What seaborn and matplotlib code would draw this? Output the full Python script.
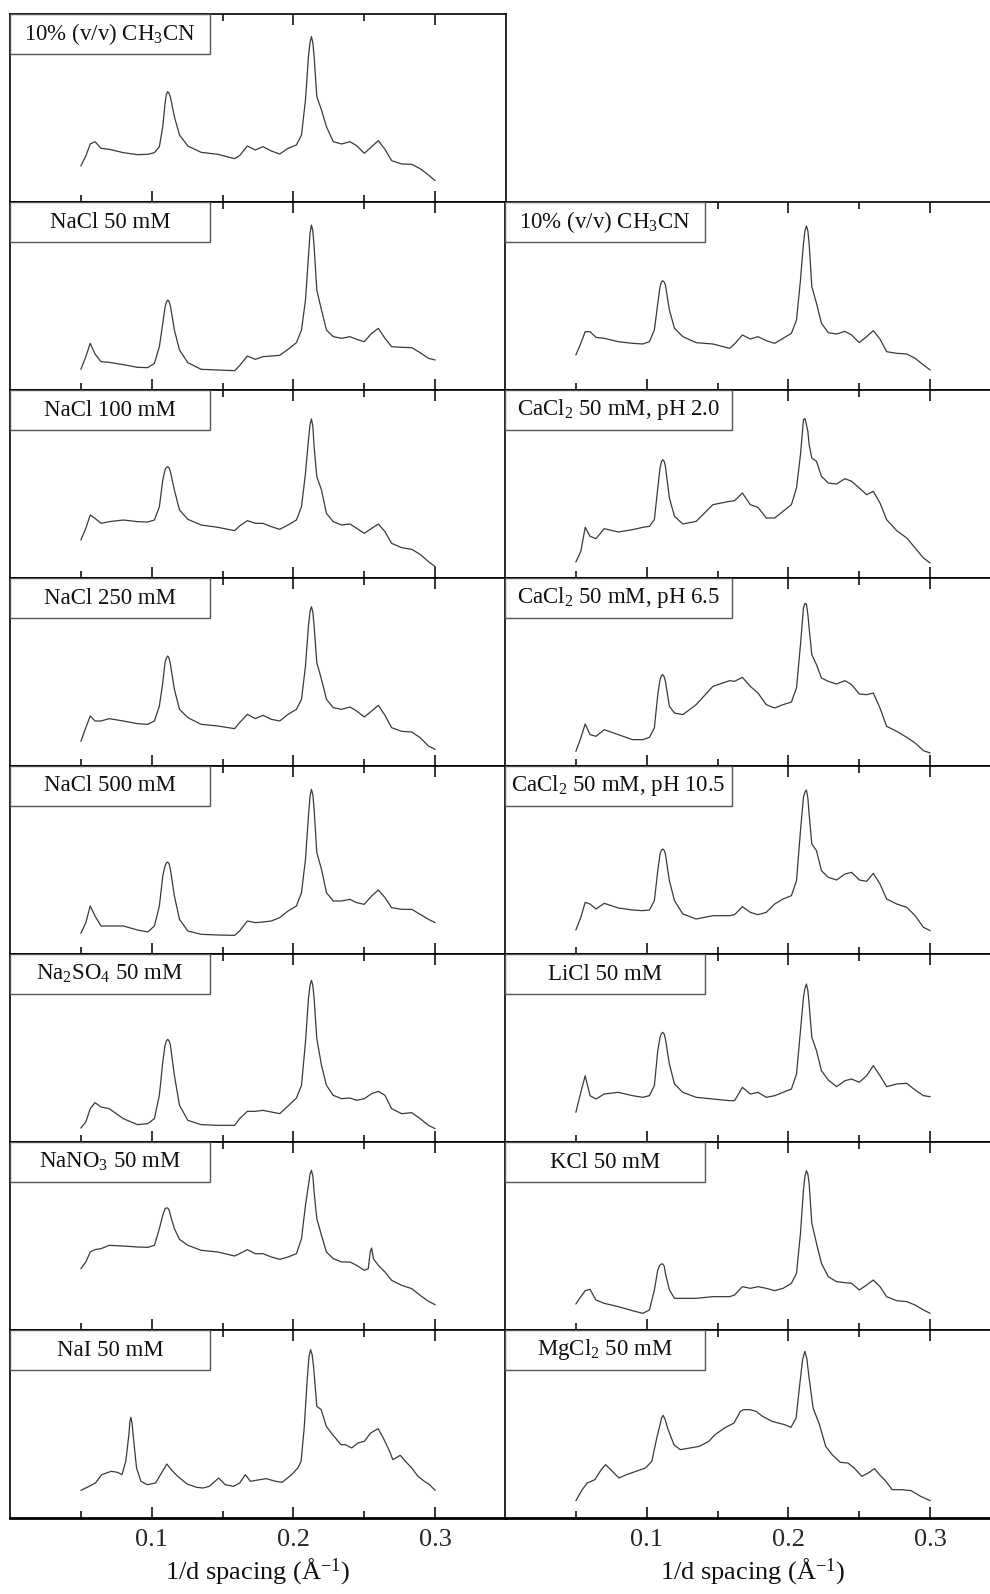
import seaborn as sns
import matplotlib.pyplot as plt
from matplotlib.patches import Rectangle
from matplotlib.ticker import FixedLocator

# 1/d spacing grid (1/A) used by most of the traces
q_std = [0.050, 0.0535, 0.0566, 0.060, 0.0642, 0.070, 0.080, 0.090, 0.0972, 0.1019,
         0.1054, 0.1078, 0.1094, 0.1103, 0.1113, 0.1123, 0.1132, 0.1160, 0.1196, 0.1255,
         0.1349, 0.1467, 0.1585, 0.1620, 0.1675, 0.1731, 0.1785, 0.1844, 0.1903, 0.1962,
         0.2021, 0.2057, 0.2085, 0.2106, 0.2117, 0.2127, 0.2137, 0.2146, 0.2165, 0.2198,
         0.2233, 0.2281, 0.2340, 0.2399, 0.2446, 0.2500, 0.2552, 0.2599, 0.2646, 0.2693,
         0.2764, 0.2835, 0.2894, 0.2953, 0.3000]
q_nano3 = q_std[:46] + [0.2528, 0.2542, 0.2552, 0.2564] + q_std[47:]
q_nai = [0.050, 0.0558, 0.0603, 0.0647, 0.0714, 0.0759, 0.079, 0.0817, 0.0839, 0.0846, 0.0853, 0.0861,
         0.0871, 0.0893, 0.0924, 0.0969, 0.1027, 0.1076, 0.1107, 0.1138, 0.1183, 0.125,
         0.1317, 0.1362, 0.1406, 0.1473, 0.1518, 0.1576, 0.1621, 0.1661, 0.1696, 0.1763,
         0.1808, 0.1875, 0.192, 0.1987, 0.2031, 0.2054, 0.2076, 0.2098, 0.2110, 0.2121, 0.2132, 0.2143,
         0.2165, 0.2196, 0.2232, 0.2277, 0.2335, 0.2366, 0.2411, 0.2455, 0.25, 0.2545,
         0.2598, 0.2634, 0.2679, 0.2701, 0.2754, 0.279, 0.2835, 0.2879, 0.2924, 0.296,
         0.300]
q_mg = [0.050, 0.0545, 0.058, 0.0634, 0.0679, 0.071, 0.0746, 0.0804, 0.0857, 0.0924,
        0.0991, 0.1036, 0.1071, 0.1094, 0.1105, 0.1116, 0.1130, 0.1147, 0.1192, 0.1237, 0.1304, 0.1371,
        0.1438, 0.1482, 0.1549, 0.1616, 0.1661, 0.1683, 0.1728, 0.1772, 0.1817, 0.1884,
        0.1973, 0.2018, 0.2054, 0.2085, 0.2100, 0.2116, 0.2130, 0.2143, 0.2174, 0.2219, 0.2263, 0.2308,
        0.2366, 0.242, 0.2464, 0.2518, 0.2563, 0.2607, 0.2643, 0.2688, 0.2732, 0.2799,
        0.2866, 0.2933, 0.300]

# intensities (a.u.)
i_ch3cn_l = [108, 138, 174, 181, 161, 158, 148, 142, 143, 148, 166, 226, 296, 322, 331, 326,
             314, 256, 201, 168, 149, 143, 130, 139, 168, 156, 166, 153, 144, 161, 171, 201, 306, 436,
             478, 496, 478,
             436, 316, 276, 226, 181, 174, 181, 169, 146, 166, 184, 158, 124, 114, 113, 100, 81, 64]
i_nacl50 = [62, 100, 140, 108, 85, 83, 76, 68, 67, 80, 130, 200, 248, 263, 270, 265,
            252, 180, 120, 82, 62, 60, 58, 73, 102, 92, 100, 102, 104, 122, 142, 180, 270, 400,
            470, 495, 478,
            430, 300, 240, 180, 160, 155, 160, 152, 145, 170, 185, 155, 130, 128, 127, 112, 95, 90]
i_nacl100 = [114, 149, 189, 179, 164, 169, 174, 169, 168, 174, 214, 294, 324, 331, 334, 330,
             319, 264, 204, 176, 159, 152, 142, 156, 172, 164, 164, 154, 146, 159, 174, 214, 314, 414,
             460, 477, 455,
             394, 304, 264, 194, 169, 159, 162, 149, 134, 149, 162, 139, 104, 91, 86, 71, 49, 34]
i_nacl250 = [74, 115, 150, 135, 135, 142, 135, 127, 125, 135, 180, 250, 310, 324, 330, 323,
             305, 230, 170, 145, 125, 120, 112, 130, 155, 142, 152, 140, 135, 155, 170, 200, 300, 420,
             462, 478, 462,
             420, 310, 260, 200, 175, 170, 177, 165, 147, 165, 182, 152, 115, 104, 102, 85, 60, 50]
i_nacl500 = [62, 94, 144, 114, 84, 84, 84, 72, 66, 84, 144, 234, 264, 273, 276, 270,
             254, 174, 104, 69, 59, 57, 56, 69, 99, 94, 96, 99, 109, 129, 144, 184, 284, 414,
             472, 494, 478,
             434, 304, 254, 184, 159, 159, 164, 154, 149, 174, 192, 169, 139, 134, 134, 119, 104, 94]
i_na2so4 = [42, 60, 100, 118, 105, 100, 70, 52, 55, 70, 140, 240, 290, 303, 308, 303,
            290, 200, 110, 65, 52, 50, 50, 70, 92, 92, 95, 90, 85, 108, 132, 170, 300, 430,
            470, 485, 470,
            430, 310, 230, 170, 140, 130, 132, 125, 130, 145, 152, 140, 100, 85, 88, 70, 50, 40]
i_nano3 = [184, 204, 234, 241, 244, 254, 252, 249, 248, 254, 304, 344, 364, 366, 366, 360,
           344, 304, 272, 254, 239, 234, 222, 229, 241, 229, 229, 219, 212, 219, 229, 274, 374, 434,
           467, 479, 462,
           414, 334, 284, 234, 214, 204, 204, 194, 179, 184, 234, 246, 214, 194, 174, 149, 134, 124,
           104, 86, 76]
i_nai = [83, 95, 105, 130, 140, 137, 130, 170, 250, 290, 302, 285,
         240, 150, 110, 100, 105, 140, 162, 145, 125, 102,
         92, 90, 95, 120, 100, 95, 105, 130, 110, 115,
         118, 110, 107, 130, 150, 170, 270, 420, 485, 505, 490, 450,
         335, 325, 275, 250, 220, 220, 210, 225, 230, 255,
         268, 240, 200, 175, 188, 170, 150, 125, 110, 100,
         83]
i_ch3cn_r = [105, 140, 175, 175, 158, 155, 145, 140, 138, 145, 180, 260, 310, 323, 328, 324,
             315, 240, 185, 160, 142, 138, 125, 138, 165, 153, 160, 148, 140, 155, 170, 210, 330, 440,
             478, 492, 478,
             440, 310, 260, 200, 172, 168, 176, 165, 142, 160, 178, 153, 115, 110, 108, 95, 75, 60]
i_cacl2_ph20 = [48, 80, 152, 125, 118, 148, 138, 145, 152, 155, 175, 270, 330, 348, 355, 350,
                335, 240, 185, 162, 170, 220, 230, 232, 255, 220, 212, 180, 180, 200, 220, 270, 370, 475,
                478, 460, 440,
                400, 360, 350, 305, 285, 282, 298, 290, 270, 250, 260, 225, 175, 142, 120, 90, 60, 45]
i_cacl2_ph65 = [44, 84, 126, 94, 89, 109, 94, 79, 79, 86, 114, 214, 259, 270, 274, 268,
                254, 179, 159, 154, 184, 239, 256, 254, 266, 239, 219, 184, 174, 184, 192, 234, 364, 474,
                488, 486, 455,
                414, 334, 304, 264, 254, 246, 256, 244, 216, 214, 219, 174, 119, 104, 86, 69, 46, 39]
i_cacl2_ph105 = [72, 110, 155, 150, 135, 152, 138, 132, 130, 132, 160, 250, 300, 311, 315, 311,
                 300, 220, 160, 120, 105, 115, 115, 118, 142, 125, 118, 125, 150, 165, 175, 220, 370, 470,
                 486, 492, 468,
                 420, 330, 310, 250, 230, 222, 240, 245, 222, 218, 242, 210, 165, 150, 140, 115, 80, 70]
i_licl = [89, 149, 199, 139, 129, 144, 149, 139, 134, 139, 169, 274, 314, 325, 329, 324,
          309, 234, 174, 149, 134, 129, 124, 124, 164, 144, 149, 134, 139, 149, 159, 204, 334, 434,
          462, 474, 455,
          414, 314, 274, 214, 186, 166, 184, 189, 179, 199, 229, 199, 166, 174, 176, 156, 139, 136]
i_kcl = [78, 100, 118, 122, 90, 80, 70, 58, 50, 60, 120, 180, 195, 198, 198, 192,
         170, 120, 95, 95, 95, 100, 100, 105, 130, 125, 130, 125, 118, 125, 140, 170, 290, 420,
         462, 478, 468,
         440, 320, 260, 200, 160, 145, 142, 140, 120, 135, 150, 130, 100, 88, 85, 75, 60, 50]
i_mgcl2 = [52, 85, 105, 115, 145, 160, 145, 120, 130, 140,
           150, 170, 240, 280, 300, 308, 296, 270, 220, 205, 210, 215,
           230, 250, 270, 285, 320, 325, 325, 320, 305, 290,
           280, 272, 300, 420, 475, 500, 478, 430, 330, 280, 215, 190,
           167, 165, 150, 125, 135, 148, 130, 110, 85, 85,
           82, 65, 52]

left_labels = ["10% (v/v) CH$_3$CN", "NaCl 50 mM", "NaCl 100 mM", "NaCl 250 mM", "NaCl 500 mM",
               "Na$_2$SO$_4$ 50 mM", "NaNO$_3$ 50 mM", "NaI 50 mM"]
right_labels = ["10% (v/v) CH$_3$CN", "CaCl$_2$ 50 mM, pH 2.0", "CaCl$_2$ 50 mM, pH 6.5",
                "CaCl$_2$ 50 mM, pH 10.5", "LiCl 50 mM", "KCl 50 mM", "MgCl$_2$ 50 mM"]
left_data = [(q_std, i_ch3cn_l), (q_std, i_nacl50), (q_std, i_nacl100), (q_std, i_nacl250),
             (q_std, i_nacl500), (q_std, i_na2so4), (q_nano3, i_nano3), (q_nai, i_nai)]
right_data = [(q_std, i_ch3cn_r), (q_std, i_cacl2_ph20), (q_std, i_cacl2_ph65), (q_std, i_cacl2_ph105),
              (q_std, i_licl), (q_std, i_kcl), (q_mg, i_mgcl2)]
right_box_w = [200, 227, 227, 227, 200, 200, 200]

sns.set_theme(style="white")
plt.rcParams["font.family"] = ["Liberation Serif", "DejaVu Serif"]
plt.rcParams["mathtext.fontset"] = "custom"
plt.rcParams["mathtext.rm"] = "Liberation Serif"
plt.rcParams["mathtext.it"] = "Liberation Serif:italic"
plt.rcParams["mathtext.default"] = "rm"

W, H = 990, 1594
fig = plt.figure(figsize=(W / 100, H / 100), dpi=100)
AW, AH, TOP = 496, 188, 14
line_color = "#3a3a3a"


def panel(col_x, row, label, q, inten, box_w=200):
    ax = fig.add_axes([col_x / W, 1 - (TOP + AH * (row + 1)) / H, AW / W, AH / H])
    sns.lineplot(x=q, y=inten, ax=ax, color=line_color, linewidth=0.9)
    ax.set_xlim(0, 0.35)
    ax.set_ylim(0, 564)
    ax.set_yticks([])
    ax.xaxis.set_major_locator(FixedLocator([0.1, 0.2, 0.3]))
    ax.xaxis.set_minor_locator(FixedLocator([0.05, 0.15, 0.25]))
    ax.set_xticklabels(["0.1", "0.2", "0.3"])
    ax.tick_params(axis="x", which="both", direction="in", top=True, bottom=True,
                   width=1.1, color="black", labelbottom=(row == 7), labelsize=19, pad=8)
    ax.tick_params(axis="x", which="major", length=8)
    ax.tick_params(axis="x", which="minor", length=5)
    for s in ax.spines.values():
        s.set_color("black")
        s.set_linewidth(1.2)
    ax.set_xlabel("")
    ax.set_ylabel("")
    # label box in the upper left corner
    bw, bh = box_w / AW, 40 / AH
    ax.add_patch(Rectangle((0, 1 - bh), bw, bh, transform=ax.transAxes, facecolor="white",
                           edgecolor="#555555", linewidth=1, zorder=5))
    ax.text(bw / 2, 1 - bh / 2, label, transform=ax.transAxes, ha="center", va="center",
            fontsize=16.5, color="#111111", zorder=6)
    if row == 7:
        ax.spines["bottom"].set_linewidth(2)
        ax.set_xlabel("1/d spacing (Å$^{-1}$)", fontsize=19, labelpad=4, color="#111111")
    return ax


for r, (lab, (q, inten)) in enumerate(zip(left_labels, left_data)):
    panel(10, r, lab, q, inten)
for r, (lab, (q, inten)) in enumerate(zip(right_labels, right_data)):
    panel(505, r + 1, lab, q, inten, right_box_w[r])

fig.savefig("out.png", dpi=100)
